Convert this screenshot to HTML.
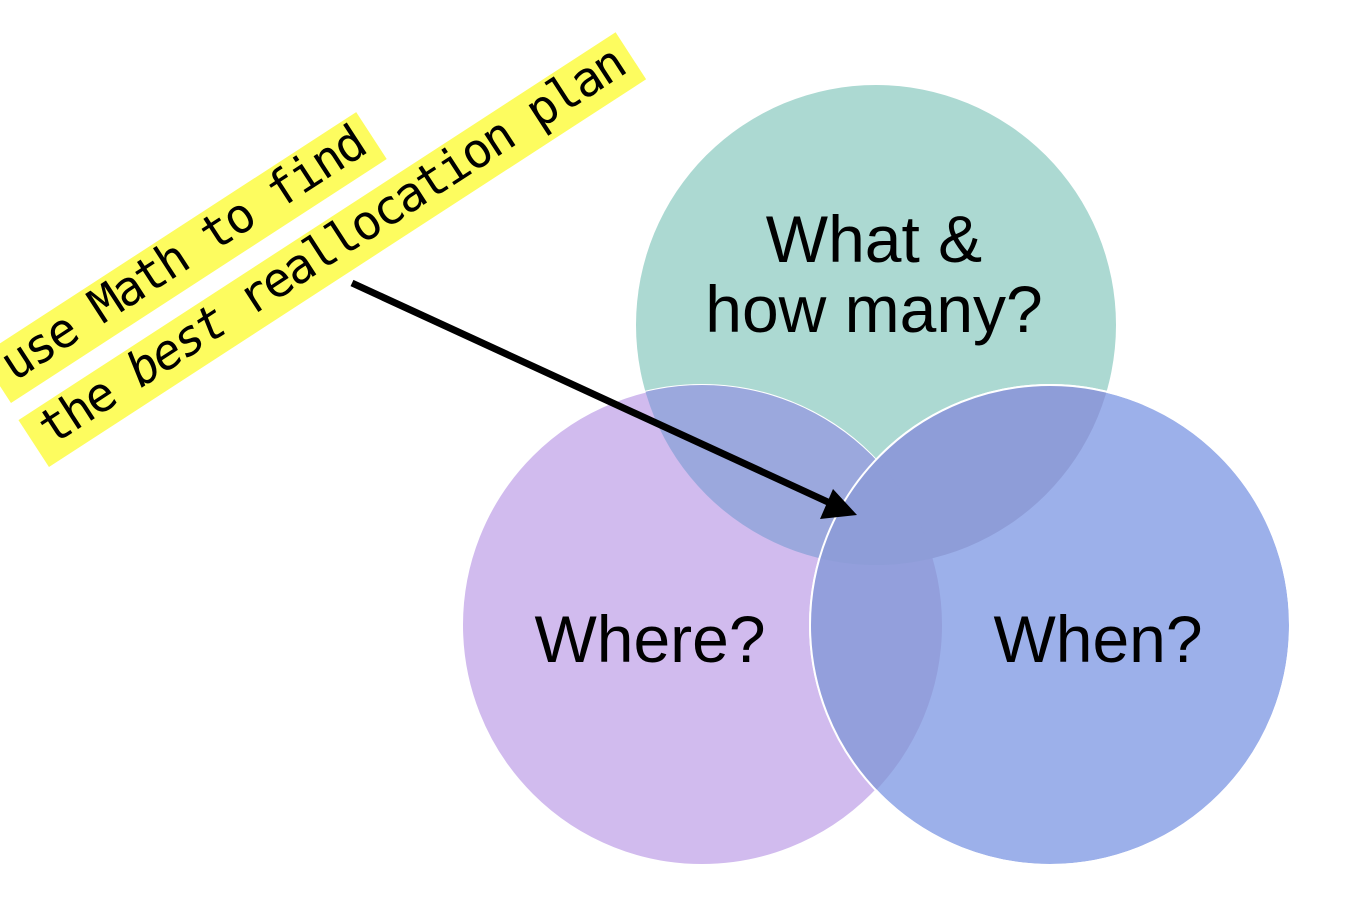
<!DOCTYPE html>
<html><head><meta charset="utf-8"><style>
html,body{margin:0;padding:0;background:#fff;}
svg{display:block;}
</style></head><body>
<svg width="1362" height="902" viewBox="0 0 1362 902" xmlns="http://www.w3.org/2000/svg">
<defs>
<clipPath id="cT"><circle cx="876" cy="325" r="240"/></clipPath>
<clipPath id="cL"><circle cx="702" cy="625" r="240"/></clipPath>
</defs>
<rect width="1362" height="902" fill="#fff"/>
<circle cx="876" cy="325" r="240" fill="#acd9d2"/>
<circle cx="702" cy="625" r="240" fill="#d1bbee" stroke="#fff" stroke-width="2"/>
<circle cx="1050" cy="625" r="240" fill="#9cb0ea" stroke="#fff" stroke-width="2"/>
<g clip-path="url(#cT)">
<circle cx="702" cy="625" r="240" fill="#9ba8dd"/>
<circle cx="1050" cy="625" r="240" fill="#8e9dd8"/>
</g>
<g clip-path="url(#cL)">
<circle cx="1050" cy="625" r="240" fill="#939fdc"/>
<g clip-path="url(#cT)"><circle cx="1050" cy="625" r="240" fill="#8e9dd8"/></g>
</g>
<circle cx="1050" cy="625" r="240" fill="none" stroke="#fff" stroke-width="2"/>
<g font-family="Liberation Sans, sans-serif" font-size="66" fill="#000" text-anchor="middle">
<text x="874" y="262">What &amp;</text>
<text x="874" y="332">how many?</text>
<text x="650" y="662">Where?</text>
<text x="1098" y="662">When?</text>
</g>
<line x1="352" y1="283" x2="830" y2="503" stroke="#000" stroke-width="7"/>
<polygon points="857,515 820,519 833,489" fill="#000"/>
<g font-family="DejaVu Sans Mono, monospace" font-size="48" letter-spacing="-2.5" fill="#000">
<g transform="translate(14,382) rotate(-33)">
<rect x="-14" y="-40" width="448" height="56" fill="#fdfc5f"/>
<text x="0" y="0">use Math to find</text>
</g>
<g transform="translate(52,446) rotate(-33)">
<rect x="-14" y="-40" width="712" height="56" fill="#fdfc5f"/>
<text x="0" y="0">the <tspan font-style="italic">best</tspan> reallocation plan</text>
</g>
</g>
</svg>
</body></html>
